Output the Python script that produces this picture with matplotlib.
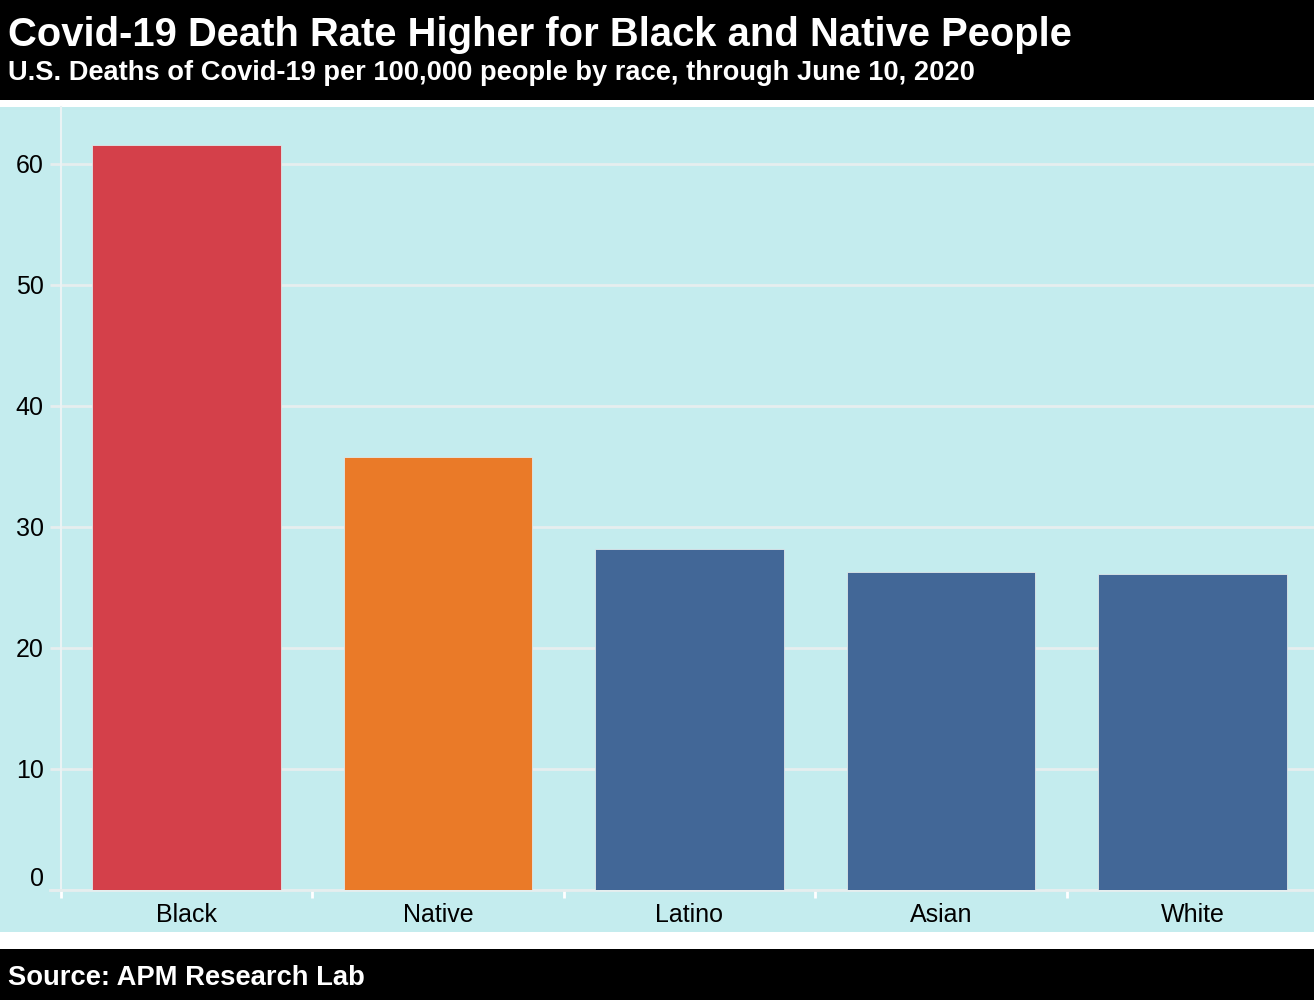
import matplotlib
matplotlib.use('Agg')
import matplotlib.pyplot as plt
from matplotlib.patches import Rectangle
from matplotlib.transforms import ScaledTranslation

plt.rcParams['font.family'] = ['Liberation Sans', 'DejaVu Sans']

# data
races = ['Black', 'Native', 'Latino', 'Asian', 'White']
deaths_per_100k = [61.6, 35.8, 28.2, 26.3, 26.1]
bar_colors = ['#d4404a', '#ea7a28', '#426797', '#426797', '#426797']
y_ticks = [0, 10, 20, 30, 40, 50, 60]

title = 'Covid-19 Death Rate Higher for Black and Native People'
subtitle = 'U.S. Deaths of Covid-19 per 100,000 people by race, through June 10, 2020'
source = 'Source: APM Research Lab'

bg = '#c4ecee'
grid_c = '#e6eeee'

fig = plt.figure(figsize=(13.14, 10), dpi=100)
fig.patch.set_facecolor('white')

# header, panel, footer blocks
fig.add_artist(Rectangle((0, 0.9), 1, 0.1, transform=fig.transFigure,
                         facecolor='black', edgecolor='none', zorder=0))
fig.add_artist(Rectangle((0, 0.068), 1, 0.825, transform=fig.transFigure,
                         facecolor=bg, edgecolor='none', zorder=0))
fig.add_artist(Rectangle((0, 0), 1, 0.051, transform=fig.transFigure,
                         facecolor='black', edgecolor='none', zorder=0))

fig.text(0.006, 0.954, title, color='white', fontsize=28.8, fontweight='bold',
         ha='left', va='baseline')
fig.text(0.006, 0.920, subtitle, color='white', fontsize=19.6, fontweight='bold',
         ha='left', va='baseline')
fig.text(0.006, 0.015, source, color='white', fontsize=19.7, fontweight='bold',
         ha='left', va='baseline')

cat_px = 251.6
ax = fig.add_axes([60.5 / 1314, 0.110, 5 * cat_px / 1314, 0.783])
ax.set_facecolor('none')

xs = [i + 0.5 for i in range(len(races))]
ax.bar(xs, deaths_per_100k, width=0.75, color=bar_colors,
       edgecolor='#dfe8ea', linewidth=0.6, zorder=3)

ax.set_xlim(0, len(races))
ax.set_ylim(0, 64.7)

ax.set_yticks(y_ticks)
ax.set_yticklabels([str(t) for t in y_ticks])
ax.yaxis.grid(True, color=grid_c, linewidth=2, zorder=0)
ax.tick_params(axis='y', length=8, width=2, color=grid_c, pad=4,
               labelsize=18, labelcolor='black')

# category boundaries carry the ticks, names sit in the middle
ax.set_xticks(range(len(races) + 1))
ax.set_xticklabels([''] * (len(races) + 1))
ax.set_xticks(xs, minor=True)
ax.set_xticklabels(races, minor=True)
ax.tick_params(axis='x', which='major', length=6, width=2, color='white',
               direction='out')
ax.tick_params(axis='x', which='minor', length=0, pad=9, labelsize=18,
               labelcolor='black')

for side in ['top', 'right']:
    ax.spines[side].set_visible(False)
ax.spines['left'].set_color('#eaf3f4')
ax.spines['left'].set_linewidth(1.5)
ax.spines['bottom'].set_color(grid_c)
ax.spines['bottom'].set_linewidth(2)
ax.spines['bottom'].set_bounds(-11 / cat_px, len(races))

# the zero label sits a little above the axis line
zero_lbl = ax.get_yticklabels()[0]
zero_lbl.set_transform(zero_lbl.get_transform() +
                       ScaledTranslation(0, 0.14, fig.dpi_scale_trans))

fig.savefig('out.png', dpi=100)
